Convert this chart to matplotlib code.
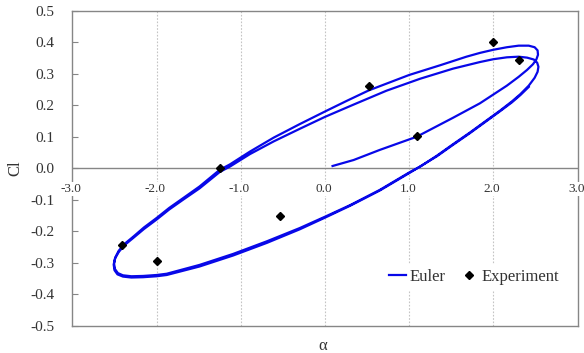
import matplotlib
matplotlib.use("Agg")
import matplotlib.pyplot as plt

plt.rcParams['font.family'] = ['Liberation Serif', 'DejaVu Serif']
plt.rcParams['axes.unicode_minus'] = False

# Euler solution, Cl vs alpha over two pitching cycles
euler_alpha = [
    # start-up, first upstroke
    0.09, 0.34, 0.65, 1.09, 1.52, 1.84, 2.16, 2.30, 2.40, 2.47, 2.51, 2.53,
    2.525, 2.49, 2.42, 2.30, 2.16, 2.00, 1.84, 1.68, 1.37, 1.00, 0.52, 0.26,
    0.00, -0.30, -0.61, -0.89, -1.13, -1.25, -1.49, -1.68, -1.85, -2.00,
    -2.15, -2.28, -2.38, -2.45, -2.49, -2.505, -2.495, -2.46, -2.40, -2.30,
    -2.16, -2.00, -1.88, -1.49, -1.09, -0.69, -0.30, 0.00, 0.30, 0.65, 1.01,
    1.13, 1.33, 1.52, 1.72, 1.90, 2.08, 2.22, 2.32, 2.42, 2.49, 2.525, 2.535,
    2.52, 2.48, 2.40, 2.30, 2.16, 2.00, 1.84, 1.52, 1.13, 0.73, 0.34, 0.00,
    -0.30, -0.61, -0.89, -1.13, -1.25,
    # second cycle
    -1.49, -1.68, -1.85, -2.00, -2.15, -2.28, -2.38, -2.45, -2.495, -2.51,
    -2.50, -2.465, -2.40, -2.30, -2.16, -2.00, -1.88, -1.49, -1.09, -0.69,
    -0.30, 0.00, 0.30, 0.65, 1.01, 1.33, 1.52, 1.72, 1.90, 2.08, 2.22, 2.32,
    2.42,
]
euler_cl = [
    0.007, 0.026, 0.058, 0.100, 0.160, 0.206, 0.262, 0.290, 0.312, 0.330,
    0.345, 0.360, 0.374, 0.384, 0.389, 0.389, 0.384, 0.376, 0.366, 0.354,
    0.327, 0.296, 0.247, 0.214, 0.180, 0.140, 0.097, 0.053, 0.012, -0.005,
    -0.058, -0.094, -0.126, -0.158, -0.188, -0.218, -0.240, -0.262, -0.283,
    -0.303, -0.320, -0.333, -0.340, -0.343, -0.342, -0.339, -0.335, -0.307,
    -0.272, -0.232, -0.190, -0.154, -0.117, -0.069, -0.012, 0.005, 0.040,
    0.076, 0.113, 0.148, 0.183, 0.212, 0.235, 0.262, 0.287, 0.306, 0.322,
    0.335, 0.345, 0.351, 0.354, 0.352, 0.346, 0.337, 0.316, 0.284, 0.246,
    0.202, 0.163, 0.125, 0.085, 0.045, 0.005, -0.012,
    -0.064, -0.099, -0.131, -0.163, -0.193, -0.222, -0.244, -0.266, -0.287,
    -0.306, -0.324, -0.337, -0.344, -0.347, -0.346, -0.343, -0.339, -0.312,
    -0.277, -0.237, -0.194, -0.157, -0.119, -0.071, -0.014, 0.038, 0.074,
    0.111, 0.146, 0.181, 0.209, 0.232, 0.258,
]

# wind tunnel measurements
exp_alpha = [-1.25, -2.41, -2.00, -0.54, 0.52, 1.09, 2.00, 2.31]
exp_cl = [0.000, -0.245, -0.294, -0.152, 0.260, 0.102, 0.402, 0.342]

x_ticks = [-3.0, -2.0, -1.0, 0.0, 1.0, 2.0, 3.0]
x_grid = [-2.0, -1.0, 0.0, 1.0, 2.0]
y_ticks = [-0.5, -0.4, -0.3, -0.2, -0.1, 0.0, 0.1, 0.2, 0.3, 0.4, 0.5]

fig = plt.figure(figsize=(5.84, 3.53), dpi=100)
ax = fig.add_axes([0.124, 0.0773, 0.865, 0.8924])

grey = '#868686'
for x in x_grid:
    ax.axvline(x, color='#c4c4c4', linestyle=(0, (1.5, 1.5)), linewidth=0.8, zorder=0)
ax.axhline(0.0, color=grey, linewidth=1.0, zorder=1)

ax.plot(euler_alpha, euler_cl, color='#0808e8', linewidth=1.6, label='Euler',
        solid_joinstyle='round', zorder=3)
ax.plot(exp_alpha, exp_cl, linestyle='none', marker='D', markersize=4.3,
        color='black', label='Experiment', zorder=4)

ax.set_xlim(-3, 3)
ax.set_ylim(-0.5, 0.5)
ax.set_xticks([])
ax.set_yticks(y_ticks)
ax.set_yticklabels(['%.1f' % v for v in y_ticks])
ax.tick_params(axis='y', direction='in', length=4, width=0.8, color=grey,
               pad=13, labelsize=11, labelcolor='#333333')
for s in ax.spines.values():
    s.set_color(grey)
    s.set_linewidth(1.0)

# alpha labels sit on the Cl = 0 line
for x in x_ticks:
    ax.annotate('%.1f' % x, (x, 0.0), xytext=(-1, -15), textcoords='offset points',
                ha='center', va='center', fontsize=9.5, color='#333333',
                bbox=dict(facecolor='white', edgecolor='none', pad=0.5),
                annotation_clip=False, zorder=5)

fig.text(0.553, 0.02, 'α', ha='center', va='center', fontsize=12, color='#333333')
fig.text(0.026, 0.524, 'Cl', ha='center', va='center', rotation=90,
         fontsize=12, color='#333333')

leg = ax.legend(loc='center', bbox_to_anchor=(0.795, 0.156), ncol=2, fontsize=12,
                frameon=True, fancybox=False, handlelength=1.0, handletextpad=0.25,
                columnspacing=0.9, borderpad=0.3, markerscale=1.0)
leg.get_frame().set_facecolor('white')
leg.get_frame().set_edgecolor('none')
leg.get_frame().set_alpha(1.0)
for t in leg.get_texts():
    t.set_color('#333333')

fig.savefig('out.png', dpi=100)
